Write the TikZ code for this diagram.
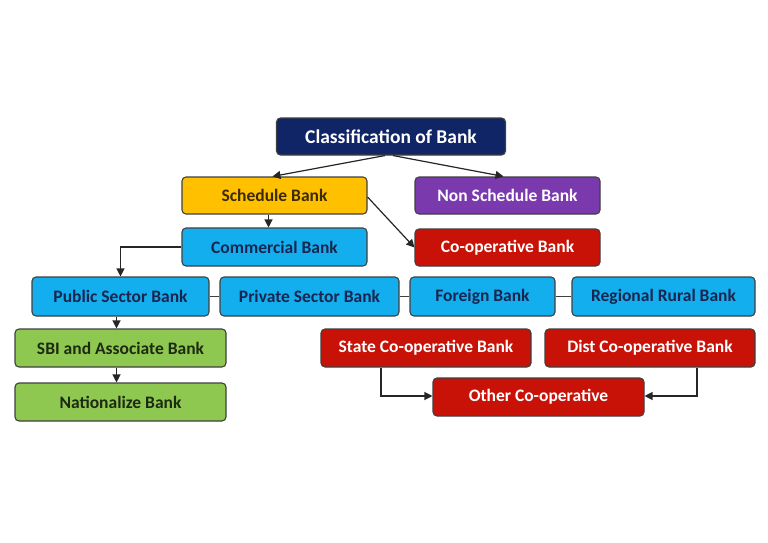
\documentclass[tikz,border=0pt]{standalone}
\usepackage{fontspec}
\setmainfont{Carlito}
\usetikzlibrary{arrows.meta,positioning}
\definecolor{navyc}{HTML}{0F2566}
\definecolor{yellowc}{HTML}{FFC000}
\definecolor{purplec}{HTML}{7A3AAE}
\definecolor{redc}{HTML}{C81208}
\definecolor{bluec}{HTML}{12AEEE}
\definecolor{greenc}{HTML}{8FC850}
\definecolor{darktxt}{HTML}{1A2550}
\definecolor{browntxt}{HTML}{3A2A05}
\definecolor{greentxt}{HTML}{1C2A12}
\tikzset{
  box/.style={draw=black!75, line width=1.1pt, rounded corners=4pt, inner sep=0pt, font=\bfseries\fontsize{17.5}{20}\selectfont},
  arr/.style={-{Triangle[length=8pt,width=8pt]}, line width=1.2pt, draw=black!85},
  lnk/.style={line width=1.2pt, draw=black!75}
}
\begin{document}
\begin{tikzpicture}[x=1pt,y=-1pt]
\useasboundingbox (0,0) rectangle (768,543);
\fill[white] (0,0) rectangle (768,543);
\node[box, fill=navyc, text=white, minimum width=229, minimum height=37, font=\bfseries\fontsize{19.5}{22}\selectfont] (cls) at (391,136.5) {Classification of Bank};
\node[box, fill=yellowc, text=browntxt, minimum width=185, minimum height=37] (sch) at (274.5,195.5) {Schedule Bank};
\node[box, fill=purplec, text=white, minimum width=185, minimum height=37] (nsch) at (507.5,195.5) {Non Schedule Bank};
\node[box, fill=bluec, text=darktxt, minimum width=185, minimum height=38] (com) at (274.5,247) {Commercial Bank};
\node[box, fill=redc, text=white, minimum width=185, minimum height=37] (coop) at (507.5,247.5) {Co-operative Bank};
\node[box, fill=bluec, text=darktxt, minimum width=177, minimum height=39] (pub) at (120.5,296.5) {Public Sector Bank};
\node[box, fill=bluec, text=darktxt, minimum width=179, minimum height=39] (pri) at (309.5,296.5) {Private Sector Bank};
\node[box, fill=bluec, text=darktxt, minimum width=145, minimum height=39] (for) at (482.5,296.5) {Foreign Bank};
\node[box, fill=bluec, text=darktxt, minimum width=183, minimum height=39] (rrb) at (663.5,296.5) {Regional Rural Bank};
\node[box, fill=greenc, text=greentxt, minimum width=211, minimum height=38] (sbi) at (120.5,348) {SBI and Associate Bank};
\node[box, fill=greenc, text=greentxt, minimum width=211, minimum height=38] (nat) at (120.5,402) {Nationalize Bank};
\node[box, fill=redc, text=white, minimum width=210, minimum height=38] (scb) at (426,348) {State Co-operative Bank};
\node[box, fill=redc, text=white, minimum width=210, minimum height=38] (dcb) at (650,348) {Dist Co-operative Bank};
\node[box, fill=redc, text=white, minimum width=211, minimum height=38] (oth) at (538.5,397) {Other Co-operative};
% connectors
\draw[arr] ([xshift=-6pt]cls.south) -- ([xshift=-2pt]sch.north);
\draw[arr] ([xshift=2pt]cls.south) -- ([xshift=-4pt]nsch.north);
\draw[arr] ([xshift=-6pt]sch.south) -- ([xshift=-6pt]com.north);
\draw[arr] ([yshift=-1.5pt]sch.east) -- (coop.west);
\draw[arr] (com.west) -| (pub.north);
\draw[lnk] (pub.east) -- (pri.west);
\draw[lnk] (pri.east) -- (for.west);
\draw[lnk] (for.east) -- (rrb.west);
\draw[arr] ([xshift=-4pt]pub.south) -- ([xshift=-4pt]sbi.north);
\draw[arr] ([xshift=-4pt]sbi.south) -- ([xshift=-4pt]nat.north);
\draw[arr] ([xshift=-45pt]scb.south) |- ([yshift=1pt]oth.west);
\draw[arr] ([xshift=47pt]dcb.south) |- ([yshift=1pt]oth.east);
\end{tikzpicture}
\end{document}
